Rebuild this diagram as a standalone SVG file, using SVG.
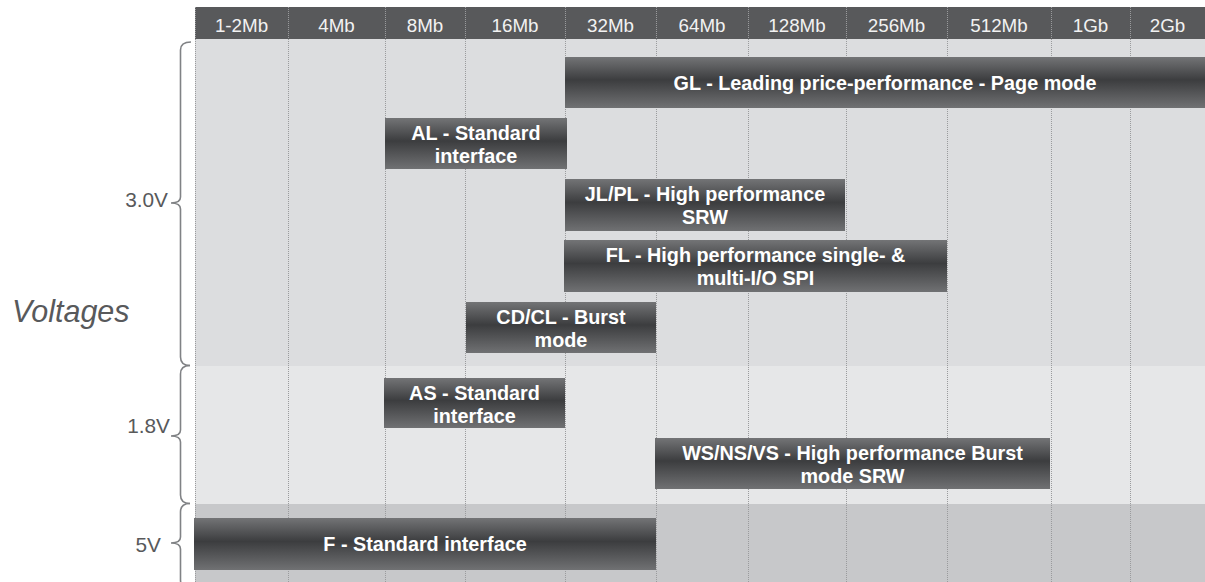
<svg xmlns="http://www.w3.org/2000/svg" width="1205" height="582" viewBox="0 0 1205 582">
<defs>
<linearGradient id="barg" x1="0" y1="0" x2="0" y2="1">
<stop offset="0" stop-color="#737476"/>
<stop offset="0.45" stop-color="#3c3d3f"/>
<stop offset="1" stop-color="#707173"/>
</linearGradient>
<style>
.hdr{font-family:"Liberation Sans",Arial,sans-serif;font-size:18.8px;fill:#f2f2f2;text-anchor:middle}
.bar rect{fill:url(#barg)}
.bar text{font-family:"Liberation Sans",Arial,sans-serif;font-size:19.8px;font-weight:bold;fill:#ffffff;text-anchor:middle}
.div{stroke:#9a9b9d;stroke-width:1;stroke-dasharray:1 1;fill:none}
.brace{stroke:#808285;stroke-width:1.6;fill:none}
.vl{font-family:"Liberation Sans",Arial,sans-serif;font-size:20.8px;fill:#58595b;text-anchor:end}
</style>
</defs>
<rect x="0" y="0" width="1205" height="582" fill="#ffffff"/>
<g id="bands">
<rect x="195" y="39" width="1010" height="327" fill="#dcdddf"/>
<rect x="195" y="366" width="1010" height="138" fill="#e6e7e8"/>
<rect x="195" y="504" width="1010" height="78" fill="#c7c8ca"/>
<rect x="195" y="7" width="1010" height="32" fill="#58595b"/>
</g>
<g id="dividers">
<line class="div" x1="195.5" y1="7" x2="195.5" y2="582"/>
<line class="div" x1="288.5" y1="7" x2="288.5" y2="582"/>
<line class="div" x1="385.5" y1="7" x2="385.5" y2="582"/>
<line class="div" x1="465.5" y1="7" x2="465.5" y2="582"/>
<line class="div" x1="565.5" y1="7" x2="565.5" y2="582"/>
<line class="div" x1="656.5" y1="7" x2="656.5" y2="582"/>
<line class="div" x1="748.5" y1="7" x2="748.5" y2="582"/>
<line class="div" x1="846.5" y1="7" x2="846.5" y2="582"/>
<line class="div" x1="947.5" y1="7" x2="947.5" y2="582"/>
<line class="div" x1="1051.5" y1="7" x2="1051.5" y2="582"/>
<line class="div" x1="1130.5" y1="7" x2="1130.5" y2="582"/>
</g>
<g id="header">
<text class="hdr" x="241.5" y="31.5">1-2Mb</text>
<text class="hdr" x="336.5" y="31.5">4Mb</text>
<text class="hdr" x="425" y="31.5">8Mb</text>
<text class="hdr" x="515" y="31.5">16Mb</text>
<text class="hdr" x="610.5" y="31.5">32Mb</text>
<text class="hdr" x="702" y="31.5">64Mb</text>
<text class="hdr" x="797" y="31.5">128Mb</text>
<text class="hdr" x="896.5" y="31.5">256Mb</text>
<text class="hdr" x="999" y="31.5">512Mb</text>
<text class="hdr" x="1090.5" y="31.5">1Gb</text>
<text class="hdr" x="1167.5" y="31.5">2Gb</text>
</g>
<g id="node-gl" class="bar">
<rect x="565" y="57" width="640" height="51"/>
<text x="885" y="90">GL - Leading price-performance - Page mode</text>
</g>
<g id="node-al" class="bar">
<rect x="385" y="118" width="182" height="51"/>
<text x="476" y="140">AL - Standard</text>
<text x="476" y="163">interface</text>
</g>
<g id="node-jlpl" class="bar">
<rect x="565" y="179" width="280" height="52"/>
<text x="705" y="201">JL/PL - High performance</text>
<text x="705" y="224">SRW</text>
</g>
<g id="node-fl" class="bar">
<rect x="564" y="240" width="383" height="52"/>
<text x="755.5" y="262">FL - High performance single- &amp;</text>
<text x="755.5" y="285">multi-I/O SPI</text>
</g>
<g id="node-cdcl" class="bar">
<rect x="466" y="302" width="190" height="51"/>
<text x="561" y="324">CD/CL - Burst</text>
<text x="561" y="347">mode</text>
</g>
<g id="node-as" class="bar">
<rect x="384" y="378" width="181" height="50"/>
<text x="474.5" y="400">AS - Standard</text>
<text x="474.5" y="423">interface</text>
</g>
<g id="node-ws" class="bar">
<rect x="655" y="438" width="395" height="51"/>
<text x="852.5" y="460">WS/NS/VS - High performance Burst</text>
<text x="852.5" y="483">mode SRW</text>
</g>
<g id="node-f" class="bar">
<rect x="194" y="518" width="462" height="52"/>
<text x="425" y="551">F - Standard interface</text>
</g>
<g id="braces">
<path class="brace" d="M191 42 Q180.5 42 180.5 50 L180.5 197 Q180.5 203 171 203 Q180.5 203 180.5 209 L180.5 357 Q180.5 365.5 190 365.5"/>
<path class="brace" d="M190 365.5 Q180.5 365.5 180.5 374 L180.5 430 Q180.5 436 171 436 Q180.5 436 180.5 442 L180.5 495 Q180.5 503.5 190 503.5"/>
<path class="brace" d="M190 503.5 Q180.5 503.5 180.5 512 L180.5 537 Q180.5 543 171 543 Q180.5 543 180.5 549 L180.5 580 Q180.5 588 190 588"/>
</g>
<g id="labels">
<text class="vl" x="168" y="207">3.0V</text>
<text class="vl" x="170" y="433">1.8V</text>
<text class="vl" x="161" y="552">5V</text>
<text x="12" y="322" font-family="'Liberation Sans',Arial,sans-serif" font-size="30.5" font-style="italic" fill="#58595b">Voltages</text>
</g>
</svg>
